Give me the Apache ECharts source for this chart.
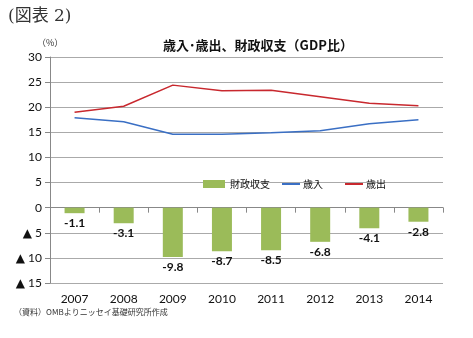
<!DOCTYPE html>
<html><head><meta charset="utf-8">
<script src="https://cdn.jsdelivr.net/npm/echarts@6/dist/echarts.min.js"></script>
<style>html,body{margin:0;padding:0;background:#fff;}#c{width:473px;height:338px;}</style>
</head><body><div id="c"></div>
<script>
const years = ['2007','2008','2009','2010','2011','2012','2013','2014'];
const balance = [-1.1,-3.1,-9.8,-8.7,-8.5,-6.8,-4.1,-2.8];
const revenue = [17.9,17.1,14.6,14.6,14.9,15.3,16.7,17.5];
const outlays = [19.0,20.2,24.4,23.3,23.4,22.1,20.8,20.3];
const yTicks = {min:-15, max:30, interval:5};

const chart = echarts.init(document.getElementById('c'));
const font = '"Noto Sans CJK JP", sans-serif';
const numFont = 'Lato, "DejaVu Sans", sans-serif';
chart.setOption({
  animation:false,
  textStyle:{fontFamily:font},
  graphic:[
    {type:'text', left:8, top:8, style:{text:'(図表 2)', font:'17px "DejaVu Serif", "Noto Sans CJK JP", serif', fill:'#333'}},
    {type:'text', left:37, top:38, style:{text:'（%）', font:'9px '+font, fill:'#333'}},
    {type:'text', left:14, top:308, style:{text:'（資料）OMBよりニッセイ基礎研究所作成', font:'8px '+font, fill:'#333'}}
  ],
  title:{text:'歳入･歳出、財政収支（GDP比）', left:253, textAlign:'center', top:34,
    textStyle:{fontSize:13, fontWeight:'bold', color:'#111', fontFamily:font}},
  legend:[
    {top:174, left:198, itemWidth:22, itemHeight:8,
     textStyle:{fontSize:10, color:'#111', fontFamily:font},
     data:[{name:'財政収支', icon:'rect'}]},
    {top:174, left:277, itemGap:22, itemWidth:18, itemHeight:2,
     textStyle:{fontSize:10, color:'#111', fontFamily:font, padding:[0,0,0,-2]},
     data:[{name:'歳入', icon:'rect'},{name:'歳出', icon:'rect'}]}
  ],
  grid:{left:50, right:30, top:57, bottom:55},
  xAxis:[
    {type:'category', data:years, axisLine:{onZero:true, lineStyle:{color:'#888'}},
     axisTick:{show:true, length:5, lineStyle:{color:'#888'}}, axisLabel:{show:false}},
    {type:'category', data:years, position:'bottom', axisLine:{show:false, onZero:false},
     axisTick:{show:false}, axisLabel:{fontSize:12, color:'#111', margin:10, fontFamily:numFont}}
  ],
  yAxis:{type:'value', min:yTicks.min, max:yTicks.max, interval:yTicks.interval,
    axisLine:{show:true, lineStyle:{color:'#888'}}, axisTick:{show:true, length:5, lineStyle:{color:'#888'}},
    splitLine:{lineStyle:{color:'#aaa'}},
    axisLabel:{fontSize:12, color:'#111', fontFamily:numFont,
      formatter:v=> v<0 ? '▲ '+(-v) : String(v)}},
  series:[
    {name:'財政収支', type:'bar', xAxisIndex:0, data:balance, barWidth:20,
     itemStyle:{color:'#9BBB59'},
     label:{show:true, position:'bottom', fontSize:12, fontWeight:'bold', color:'#111', distance:4,
       fontFamily:numFont}},
    {name:'歳入', type:'line', xAxisIndex:0, data:revenue, symbol:'none',
     lineStyle:{color:'#3A6FC4', width:1.5}, itemStyle:{color:'#3A6FC4'}},
    {name:'歳出', type:'line', xAxisIndex:0, data:outlays, symbol:'none',
     lineStyle:{color:'#C8282E', width:1.5}, itemStyle:{color:'#C8282E'}}
  ]
});
</script></body></html>
